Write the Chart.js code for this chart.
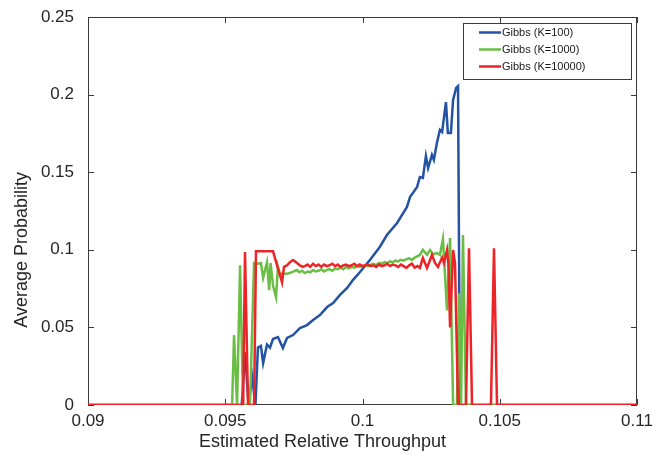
<!DOCTYPE html>
<html lang="en">
<head>
    <meta charset="UTF-8">
    <title>Gibbs Average Probability</title>
    <style>
        body { margin: 0; background: #fff; }
        #chartContainer { width: 660px; height: 457px; position: relative; }
    </style>
</head>
<body>
    <div id="chartContainer">
        <canvas id="probChart"></canvas>
    </div>

    <script src="https://cdn.jsdelivr.net/npm/chart.js"></script>
    <script>
        // axis ticks and labels
        const xTicks = [0.09, 0.095, 0.1, 0.105, 0.11];
        const yTicks = [0, 0.05, 0.1, 0.15, 0.2, 0.25];
        const xTitle = 'Estimated Relative Throughput';
        const yTitle = 'Average Probability';

        const seriesNames = ['Gibbs (K=100)', 'Gibbs (K=1000)', 'Gibbs (K=10000)'];
        const seriesColors = ['#2453a3', '#6abd45', '#ec2327'];

        // K=100 (blue)
        const k100X = [0.09, 0.0956, 0.09572, 0.09585, 0.09598, 0.0961, 0.09619, 0.0963, 0.09638, 0.09652,
            0.09663, 0.09674, 0.09692, 0.0971, 0.09725, 0.09747, 0.09772, 0.09798, 0.0982, 0.09845,
            0.09871, 0.09893, 0.09918, 0.09944, 0.09965, 0.09991, 0.10027, 0.10063, 0.10089, 0.10126,
            0.10162, 0.10173, 0.10199, 0.10209, 0.1022, 0.10231, 0.10239, 0.10253, 0.1026, 0.10271,
            0.10282, 0.1029, 0.10304, 0.10311, 0.10322, 0.1033, 0.10341, 0.10348, 0.10355, 0.11];
        const k100Y = [0, 0, 0.034, 0, 0.018, 0, 0.037, 0.038, 0.027, 0.039,
            0.037, 0.0425, 0.0438, 0.0367, 0.0432, 0.0451, 0.0496, 0.0515, 0.0548, 0.058,
            0.0631, 0.0657, 0.0709, 0.0754, 0.0805, 0.0857, 0.0934, 0.1018, 0.1095, 0.1173,
            0.1276, 0.134, 0.1405, 0.1469, 0.1463, 0.1604, 0.1527, 0.1611, 0.1579, 0.1688,
            0.1772, 0.1759, 0.1952, 0.1753, 0.1753, 0.1965, 0.2043, 0.2055, 0, 0];

        // K=1000 (green)
        const k1000X = [0.09, 0.09525, 0.09532, 0.09543, 0.09554, 0.09565, 0.0959, 0.09605, 0.09619, 0.0963,
            0.09638, 0.09652, 0.0966, 0.09665, 0.09674, 0.09685, 0.09692, 0.097, 0.0971, 0.0972,
            0.09735, 0.09747, 0.09761, 0.0977, 0.0978, 0.0979, 0.098, 0.0981, 0.0982, 0.0983,
            0.0984, 0.0985, 0.0986, 0.0987, 0.0988, 0.0989, 0.099, 0.0991, 0.0992, 0.0993,
            0.0994, 0.0995, 0.0996, 0.0997, 0.0998, 0.0999, 0.1, 0.1001, 0.1002, 0.1003,
            0.1004, 0.1005, 0.1006, 0.1007, 0.1008, 0.1009, 0.101, 0.1011, 0.1012, 0.1013,
            0.1014, 0.1015, 0.1016, 0.1017, 0.1018, 0.1019, 0.10209, 0.1022, 0.10235, 0.10246,
            0.10258, 0.10271, 0.10282, 0.10293, 0.10308, 0.10319, 0.1033, 0.10344, 0.10352, 0.10359,
            0.10366, 0.10377, 0.11];
        const k1000Y = [0, 0, 0.045, 0, 0.09, 0, 0, 0.0915, 0.091, 0.0915,
            0.082, 0.092, 0.074, 0.0915, 0.077, 0.0696, 0.089, 0.084, 0.085, 0.0845,
            0.085, 0.086, 0.087, 0.0855, 0.0865, 0.085, 0.086, 0.0855, 0.087, 0.086,
            0.0865, 0.0875, 0.086, 0.087, 0.0875, 0.0865, 0.088, 0.0875, 0.0885, 0.0875,
            0.089, 0.088, 0.089, 0.0885, 0.0895, 0.089, 0.0895, 0.09, 0.0895, 0.0905,
            0.091, 0.09, 0.0915, 0.091, 0.092, 0.0915, 0.0925, 0.092, 0.093, 0.0925,
            0.0935, 0.093, 0.094, 0.0945, 0.0935, 0.095, 0.0967, 0.0999, 0.0967, 0.0999,
            0.097, 0.098, 0.0967, 0.107, 0.061, 0.1076, 0, 0, 0.072, 0,
            0.1095, 0, 0];

        // K=10000 (red)
        const k10000X = [0.09, 0.09565, 0.09572, 0.09583, 0.09605, 0.09612, 0.09674, 0.09692, 0.09707, 0.09714,
            0.09725, 0.09736, 0.09747, 0.09761, 0.09772, 0.09783, 0.0979, 0.098, 0.0981, 0.0982,
            0.0983, 0.0984, 0.0985, 0.0986, 0.0987, 0.0988, 0.0989, 0.099, 0.0991, 0.0992,
            0.0993, 0.0994, 0.0995, 0.0996, 0.0997, 0.0998, 0.0999, 0.1, 0.1001, 0.1002,
            0.1003, 0.1004, 0.1005, 0.1006, 0.1007, 0.1008, 0.1009, 0.101, 0.1011, 0.1012,
            0.1013, 0.1014, 0.1015, 0.1016, 0.1017, 0.1018, 0.1019, 0.102, 0.10209, 0.1022,
            0.10235, 0.10246, 0.10253, 0.10264, 0.10275, 0.1029, 0.10297, 0.10308, 0.10313, 0.10319,
            0.1033, 0.10337, 0.10348, 0.10377, 0.10388, 0.10399, 0.10468, 0.10479, 0.1049, 0.11];
        const k10000Y = [0, 0, 0.0986, 0, 0, 0.099, 0.099, 0.088, 0.079, 0.089,
            0.09, 0.092, 0.0934, 0.0915, 0.09, 0.089, 0.0895, 0.0905, 0.089, 0.091,
            0.0895, 0.0905, 0.089, 0.0905, 0.0895, 0.09, 0.091, 0.0895, 0.0905, 0.089,
            0.09, 0.0905, 0.0895, 0.09, 0.091, 0.0895, 0.0905, 0.0895, 0.09, 0.0905,
            0.0895, 0.09, 0.089, 0.0905, 0.0895, 0.09, 0.091, 0.0895, 0.0905, 0.09,
            0.089, 0.0905, 0.0895, 0.0883, 0.09, 0.091, 0.0885, 0.0895, 0.0883, 0.0947,
            0.0883, 0.0934, 0.0967, 0.0915, 0.089, 0.095, 0.0915, 0.0999, 0.091, 0.05,
            0.0999, 0.0915, 0, 0, 0.101, 0, 0, 0.101, 0, 0];

        const FONT = '"Liberation Sans", Arial, sans-serif';
        const TEXT = '#262626';

        function toPoints(xs, ys) {
            return xs.map((x, i) => ({ x: x, y: ys[i] }));
        }

        function fmt(v) {
            return String(+v.toFixed(3));
        }

        // box with inward ticks on all four sides, axis labels and a MATLAB style legend
        const matlabAxes = {
            id: 'matlabAxes',
            beforeDatasetsDraw(chart) {
                const { ctx, chartArea: a, scales } = chart;
                ctx.save();
                ctx.strokeStyle = '#3a3a3a';
                ctx.lineWidth = 1;
                ctx.strokeRect(a.left + 0.5, a.top + 0.5, a.right - a.left - 1, a.bottom - a.top - 1);
                ctx.beginPath();
                xTicks.forEach(v => {
                    const px = Math.round(scales.x.getPixelForValue(v)) + 0.5;
                    ctx.moveTo(px, a.bottom); ctx.lineTo(px, a.bottom - 6);
                    ctx.moveTo(px, a.top); ctx.lineTo(px, a.top + 6);
                });
                yTicks.forEach(v => {
                    const py = Math.round(scales.y.getPixelForValue(v)) + 0.5;
                    ctx.moveTo(a.left, py); ctx.lineTo(a.left + 6, py);
                    ctx.moveTo(a.right, py); ctx.lineTo(a.right - 6, py);
                });
                ctx.stroke();

                // axis labels (sit a little toward the origin in the original figure)
                ctx.fillStyle = TEXT;
                ctx.font = '18px ' + FONT;
                ctx.textAlign = 'center';
                ctx.textBaseline = 'middle';
                ctx.fillText(xTitle, (a.left + a.right) / 2 - 40, a.bottom + 37);
                ctx.translate(22, scales.y.getPixelForValue(0.1));
                ctx.rotate(-Math.PI / 2);
                ctx.fillText(yTitle, 0, 0);
                ctx.restore();
            },
            afterDraw(chart) {
                const { ctx, chartArea: a } = chart;
                const w = 168, h = 56;
                const left = a.right - 6 - w, top = a.top + 6;
                ctx.save();
                ctx.fillStyle = '#fff';
                ctx.fillRect(left, top, w, h);
                ctx.strokeStyle = '#3a3a3a';
                ctx.lineWidth = 1;
                ctx.strokeRect(left + 0.5, top + 0.5, w, h);
                ctx.font = '11px ' + FONT;
                ctx.textBaseline = 'middle';
                chart.data.datasets.forEach((ds, i) => {
                    const ry = top + 9.5 + i * 17;
                    ctx.strokeStyle = ds.borderColor;
                    ctx.lineWidth = 2.5;
                    ctx.beginPath();
                    ctx.moveTo(left + 16, ry);
                    ctx.lineTo(left + 38, ry);
                    ctx.stroke();
                    ctx.fillStyle = '#1a1a1a';
                    ctx.fillText(ds.label, left + 39, ry + 0.5);
                });
                ctx.restore();
            }
        };

        const allX = [k100X, k1000X, k10000X];
        const allY = [k100Y, k1000Y, k10000Y];

        new Chart(document.getElementById('probChart'), {
            type: 'line',
            data: {
                datasets: seriesNames.map((name, i) => ({
                    label: name,
                    data: toPoints(allX[i], allY[i]),
                    borderColor: seriesColors[i],
                    backgroundColor: seriesColors[i],
                    borderWidth: 2.5,
                    pointRadius: 0,
                    tension: 0,
                    order: 2 - i // red on top, like the original
                }))
            },
            options: {
                responsive: true,
                maintainAspectRatio: false,
                animation: false,
                layout: { padding: { top: 17, right: 23, left: 0, bottom: 0 } },
                plugins: {
                    legend: { display: false },
                    tooltip: { enabled: false }
                },
                scales: {
                    x: {
                        type: 'linear',
                        min: 0.09,
                        max: 0.11,
                        afterBuildTicks: s => { s.ticks = xTicks.map(v => ({ value: v })); },
                        afterFit: s => { s.height = 52; s.paddingLeft = 0; s.paddingRight = 0; },
                        grid: { display: false, drawTicks: false },
                        border: { display: false },
                        ticks: {
                            padding: 6,
                            maxRotation: 0,
                            color: TEXT,
                            font: { family: FONT, size: 17 },
                            callback: v => fmt(v)
                        }
                    },
                    y: {
                        min: 0,
                        max: 0.25,
                        afterBuildTicks: s => { s.ticks = yTicks.map(v => ({ value: v })); },
                        afterFit: s => { s.width = 88; s.paddingTop = 0; s.paddingBottom = 0; },
                        grid: { display: false, drawTicks: false },
                        border: { display: false },
                        ticks: {
                            padding: 14,
                            color: TEXT,
                            font: { family: FONT, size: 17 },
                            callback: v => fmt(v)
                        }
                    }
                }
            },
            plugins: [matlabAxes]
        });
    </script>
</body>
</html>
